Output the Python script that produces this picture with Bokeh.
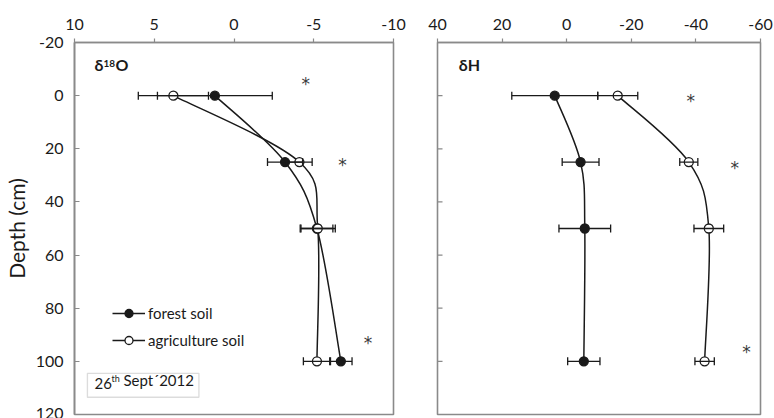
from bokeh.plotting import figure
from bokeh.layouts import row
from bokeh.models import (Range1d, FixedTicker, Whisker, ColumnDataSource, TeeHead,
                          Legend, LegendItem, Label, BoxAnnotation, CustomJSTickFormatter)
from bokeh.core.properties import value
from bokeh.embed import file_html
from bokeh.resources import INLINE

# Sampling depths (cm)
depth = [0, 25, 50, 100]

# delta 18O (per mil), mean and standard deviation
o18_forest = [1.2, -3.2, -5.2, -6.7]
o18_forest_sd = [3.6, 1.1, 1.0, 0.7]
o18_agri = [3.8, -4.1, -5.25, -5.2]
o18_agri_sd = [2.2, 0.8, 1.1, 0.85]

# delta H (per mil), mean and standard deviation
dh_forest = [3.7, -4.3, -5.6, -5.3]
dh_forest_sd = [13.3, 5.7, 8.0, 5.0]
dh_agri = [-15.8, -37.8, -44.0, -42.7]
dh_agri_sd = [6.2, 2.8, 4.6, 3.0]

# significance markers (x, depth)
o18_sig_x = [-4.5, -6.8, -8.4]
o18_sig_depth = [-5.6, 25, 92]
dh_sig_x = [-38.4, -52.0, -55.7]
dh_sig_depth = [1, 26, 95.5]

o18_ticks = [10, 5, 0, -5, -10]
dh_ticks = [40, 20, 0, -20, -40, -60]
depth_ticks = [-20, 0, 20, 40, 60, 80, 100, 120]

FONT = "Lato"
INK = "#1a1a1a"
FRAME = "#8a8a8a"

# plain hyphen-minus for negative tick labels
plain_numbers = CustomJSTickFormatter(code="return tick.toString()")


def smooth_segments(xs, ys):
    """Cubic Bezier pieces (Catmull-Rom style) through the given points."""
    n = len(xs)
    seg = dict(x0=[], y0=[], x1=[], y1=[], cx0=[], cy0=[], cx1=[], cy1=[])
    for i in range(n - 1):
        a = max(i - 1, 0)
        b = min(i + 2, n - 1)
        seg["x0"].append(xs[i]); seg["y0"].append(ys[i])
        seg["x1"].append(xs[i + 1]); seg["y1"].append(ys[i + 1])
        seg["cx0"].append(xs[i] + (xs[i + 1] - xs[a]) / 6.0)
        seg["cy0"].append(ys[i] + (ys[i + 1] - ys[a]) / 6.0)
        seg["cx1"].append(xs[i + 1] - (xs[b] - xs[i]) / 6.0)
        seg["cy1"].append(ys[i + 1] - (ys[b] - ys[i]) / 6.0)
    return seg


def make_panel(xr, xticks, width, border_left, border_right, show_depth_axis):
    p = figure(x_range=Range1d(*xr), y_range=Range1d(120, -20),
               frame_width=width, frame_height=372,
               min_border_left=border_left, min_border_right=border_right,
               min_border_top=42, min_border_bottom=4,
               x_axis_location="above", toolbar_location=None,
               output_backend="svg", background_fill_color="white",
               border_fill_color="white")
    p.grid.visible = False
    p.outline_line_color = FRAME
    p.outline_line_width = 1.6

    p.xaxis.ticker = FixedTicker(ticks=xticks)
    p.xaxis.formatter = plain_numbers
    p.xaxis.major_tick_out = 4
    p.xaxis.major_tick_in = 0
    p.xaxis.minor_tick_out = 0
    p.xaxis.minor_tick_in = 0
    p.xaxis.major_label_standoff = 9
    p.xaxis.major_label_text_font = FONT
    p.xaxis.major_label_text_font_size = "16px"
    p.xaxis.major_label_text_color = INK
    p.xaxis.axis_line_color = FRAME
    p.xaxis.axis_line_width = 1.6
    p.xaxis.major_tick_line_color = FRAME
    p.xaxis.major_tick_line_width = 1.2

    if show_depth_axis:
        p.yaxis.ticker = FixedTicker(ticks=depth_ticks)
        p.yaxis.formatter = plain_numbers
        p.yaxis.major_tick_in = 5
        p.yaxis.major_tick_out = 0
        p.yaxis.minor_tick_out = 0
        p.yaxis.minor_tick_in = 0
        p.yaxis.major_label_text_font = FONT
        p.yaxis.major_label_text_color = INK
        p.yaxis.major_label_text_font_size = "16px"
        p.yaxis.major_label_standoff = 11
        p.yaxis.axis_line_color = FRAME
        p.yaxis.axis_line_width = 1.6
        p.yaxis.major_tick_line_color = FRAME
        p.yaxis.major_tick_line_width = 1.2
    else:
        # unlabelled depth ticks along the inner left edge
        p.yaxis.visible = False
        p.ray(x=[p.x_range.start] * len(depth_ticks), y=depth_ticks,
              length=5, length_units="screen", angle=0,
              line_color=FRAME, line_width=1.2)
    return p


def draw_series(p, xs, sd, filled):
    curve = p.bezier(source=ColumnDataSource(smooth_segments(xs, depth)),
                     x0="x0", y0="y0", x1="x1", y1="y1",
                     cx0="cx0", cy0="cy0", cx1="cx1", cy1="cy1",
                     line_color=INK, line_width=1.5)
    src = ColumnDataSource(dict(depth=depth,
                                lo=[x - s for x, s in zip(xs, sd)],
                                hi=[x + s for x, s in zip(xs, sd)]))
    p.add_layout(Whisker(source=src, base="depth", lower="lo", upper="hi",
                         dimension="width", line_color=INK, line_width=1.3,
                         level="glyph",
                         lower_head=TeeHead(size=8, line_color=INK, line_width=1.3),
                         upper_head=TeeHead(size=8, line_color=INK, line_width=1.3)))
    pts = p.scatter(xs, depth, marker="circle", size=9,
                    fill_color=INK if filled else "white",
                    line_color=INK, line_width=1.3)
    return curve, pts


def draw_stars(p, xs, ys):
    p.text(xs, ys, text=["*"] * len(xs), text_font=value("DejaVu Sans"),
           text_font_size="17px", text_color="#3a3a3a",
           text_align="center", text_baseline="middle", y_offset=3)


# ---- delta 18O panel -------------------------------------------------------
p1 = make_panel((10, -10), o18_ticks, 319, 74, 20, True)
p1.yaxis.axis_label = "Depth (cm)"
p1.yaxis.axis_label_text_font = FONT
p1.yaxis.axis_label_text_font_size = "21px"
p1.yaxis.axis_label_text_font_style = "normal"
p1.yaxis.axis_label_text_color = INK
p1.yaxis.axis_label_standoff = 4

fc1, fp1 = draw_series(p1, o18_forest, o18_forest_sd, True)
ac1, ap1 = draw_series(p1, o18_agri, o18_agri_sd, False)
draw_stars(p1, o18_sig_x, o18_sig_depth)

p1.add_layout(Label(x=8.75, y=-8.3, text="δ", text_font=FONT, text_font_size="16px",
                    text_font_style="bold", text_color=INK))
p1.add_layout(Label(x=8.75, y=-10.9, x_offset=9, text="18", text_font=FONT,
                    text_font_size="10px", text_font_style="bold", text_color=INK))
p1.add_layout(Label(x=8.75, y=-8.3, x_offset=21, text="O", text_font=FONT,
                    text_font_size="16px", text_font_style="bold", text_color=INK))

# legend
legend = Legend(items=[LegendItem(label="forest soil", renderers=[fc1, fp1]),
                       LegendItem(label="agriculture soil", renderers=[ac1, ap1])],
                location=(38, 64), orientation="vertical",
                glyph_width=33, glyph_height=20, label_standoff=3, spacing=7,
                padding=0, margin=0, border_line_color=None,
                background_fill_alpha=0, label_text_font=FONT,
                label_text_font_size="15px", label_text_color=INK)
p1.add_layout(legend)

# date box
p1.add_layout(BoxAnnotation(left=9.19, right=2.2, top=104.5, bottom=113.5,
                            fill_color="white", fill_alpha=1,
                            line_color=FRAME, line_width=1.3, level="underlay"))
p1.add_layout(Label(x=8.75, y=110.5, text="26", text_font=FONT, text_font_size="15px",
                    text_color=INK))
p1.add_layout(Label(x=8.75, y=108.4, x_offset=17, text="th", text_font=FONT,
                    text_font_size="9px", text_color=INK))
p1.add_layout(Label(x=8.75, y=110.5, x_offset=29, text="Sept´2012", text_font=FONT,
                    text_font_size="15px", text_color=INK))

# ---- delta H panel ---------------------------------------------------------
p2 = make_panel((40, -60), dh_ticks, 323, 24, 14, False)
draw_series(p2, dh_forest, dh_forest_sd, True)
draw_series(p2, dh_agri, dh_agri_sd, False)
draw_stars(p2, dh_sig_x, dh_sig_depth)
p2.add_layout(Label(x=33.4, y=-8.3, text="δH", text_font=FONT, text_font_size="16px",
                    text_font_style="bold", text_color=INK))

layout = row(p1, p2)
open("out.html", "w").write(file_html(layout, INLINE))
